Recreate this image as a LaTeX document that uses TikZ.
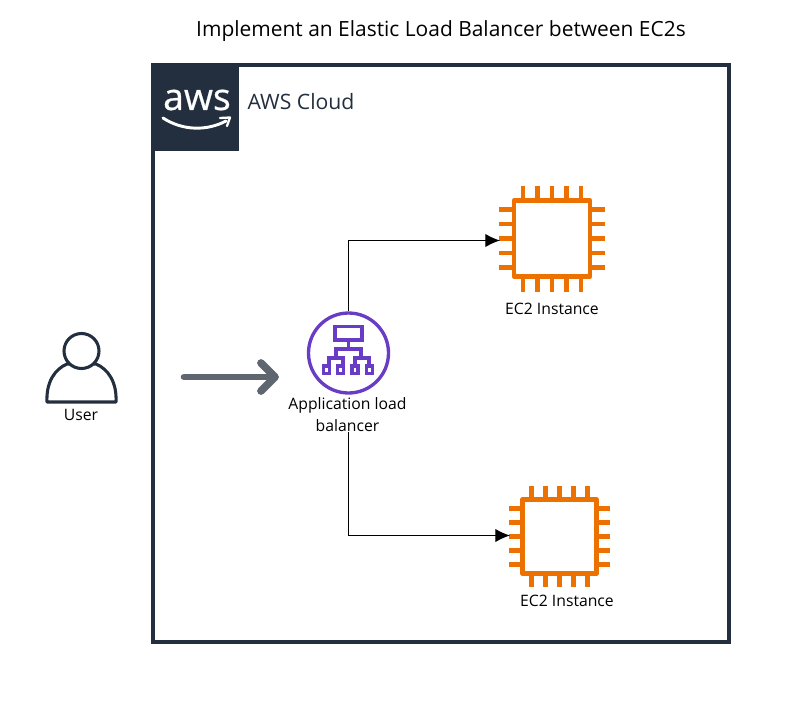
\documentclass[tikz,border=0pt]{standalone}
\usepackage{fontspec}
\setmainfont{Open Sans}
\usetikzlibrary{arrows.meta}
\definecolor{awsdark}{HTML}{232F3E}
\definecolor{awspurple}{HTML}{693CC5}
\definecolor{awsorange}{HTML}{ED7100}
\definecolor{arrowgrey}{HTML}{5F6670}
\tikzset{
  chipline/.style={line width=3.5pt,color=awsorange},
  albline/.style={line width=2.6pt,color=awspurple},
  userline/.style={line width=2.3pt,color=awsdark},
  label/.style={font=\fontsize{11.8}{16.5}\selectfont,align=center,inner sep=0pt},
  link/.style={line width=0.9pt,-{Latex[length=11pt,width=10pt]}}
}
% centre x, centre y, half side of the body, half side with pins, pin spacing
\newcommand{\chipicon}[5]{%
\draw [chipline,line join=round] (#1-#3,#2-#3) rectangle (#1+#3,#2+#3);
\foreach \d in {-2,-1,0,1,2} {
\draw [chipline] (#1+\d*#5,#2-#3) -- (#1+\d*#5,#2-#4);
\draw [chipline] (#1+\d*#5,#2+#3) -- (#1+\d*#5,#2+#4);
\draw [chipline] (#1-#3,#2+\d*#5) -- (#1-#4,#2+\d*#5);
\draw [chipline] (#1+#3,#2+\d*#5) -- (#1+#4,#2+\d*#5);
}}
\begin{document}
\begin{tikzpicture}[x=0.75pt,y=-0.75pt]
\useasboundingbox (0,0) rectangle (805,703);
\node (title) at (441,31) [font=\fontsize{15.7}{18}\selectfont,inner sep=0pt] {Implement an Elastic Load Balancer between EC2s};
% cloud frame
\draw [line width=3pt,color=awsdark] (153,65) rectangle (729,642);
\fill [awsdark] (152,64) rectangle (239,151);
\node (awslogo) at (197,100) [font=\fontsize{28}{30}\selectfont\addfontfeature{FakeBold=0.6},text=white,inner sep=0pt] {aws};
\draw [line width=2.2pt,color=white,line cap=round] (163,118) .. controls (183,131) and (207,131) .. (226,121);
\draw [line width=1.7pt,color=white,line cap=round,line join=round] (220,118) -- (230,117.5) -- (227,126);
\node (cloud) at (301,102) [font=\fontsize{15.9}{18}\selectfont,text=awsdark,inner sep=0pt] {AWS Cloud};
% user
\draw [userline,line join=round] (47,402) .. controls (46,382) and (55,369) .. (67,364) -- (96,364) .. controls (108,369) and (117,382) .. (116,402) -- cycle;
\fill [white] (81.5,351) circle (17);
\draw [userline] (81.5,351) circle (17.5);
\node (user) at (81,415) [label] {User};
% load balancer
\node (alb) at (348.5,353) [circle,draw=awspurple,line width=2.5pt,minimum size=60pt,inner sep=0pt] {};
\draw [albline] (335,326.5) rectangle (362,340);
\draw [albline] (348.5,340) -- (348.5,349);
\draw [albline] (336,358) -- (336,349) -- (361,349) -- (361,358);
\draw [albline] (329,366) -- (329,358) -- (343,358) -- (343,366);
\draw [albline] (355,366) -- (355,358) -- (369,358) -- (369,366);
\foreach \d in {323.5,337.5,352,366.5} {
\draw [albline] (\d,366) rectangle (\d+6,373.5);
}
\node (albtext) at (347.5,415) [label] {Application load\\balancer};
% arrow from the user
\coordinate (arrowstart) at (184,377);
\coordinate (arrowend) at (275,377);
\draw [line width=5pt,color=arrowgrey,line cap=round] (arrowstart) -- (arrowend);
\draw [line width=5.8pt,color=arrowgrey,line cap=round,line join=round] (261,363) -- (275,377) -- (261,391);
% instances
\chipicon{552}{238.5}{38}{53}{14.5}
\chipicon{559.5}{536.5}{37}{50.5}{13.9}
\coordinate (chipa) at (500,240.5);
\coordinate (chipb) at (510,535.5);
\node (eca) at (552,309) [label] {EC2 Instance};
\node (ecb) at (567,600.5) [label] {EC2 Instance};
\draw [link] (alb.north) |- (chipa);
\draw [link] (albtext.south) ++(1,0) |- (chipb);
\end{tikzpicture}
\end{document}
